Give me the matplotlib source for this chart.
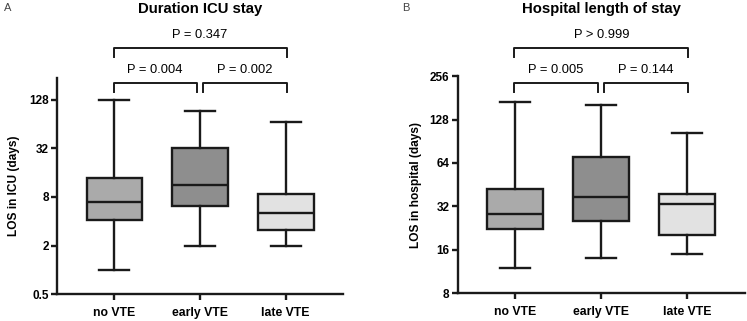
import matplotlib.pyplot as plt
import matplotlib.transforms as mtransforms
from matplotlib.ticker import FixedLocator, FixedFormatter, NullLocator

plt.rcParams['font.family'] = ['Liberation Sans', 'DejaVu Sans']

# dados (mediana, quartis, min/max)
grupos = ['no VTE', 'early VTE', 'late VTE']
cores = ['#aaaaaa', '#8e8e8e', '#e2e2e2']

icu_min = [1.0, 2.0, 2.0]
icu_q1 = [4.1, 6.2, 3.1]
icu_med = [7.0, 11.2, 5.0]
icu_q3 = [13.6, 32.0, 8.8]
icu_max = [128, 94, 67]
icu_p = ['P = 0.004', 'P = 0.002', 'P = 0.347']

hosp_min = [12.0, 14.0, 15.0]
hosp_q1 = [22.3, 25.5, 20.4]
hosp_med = [28.2, 37.0, 33.2]
hosp_q3 = [42.0, 70.0, 38.7]
hosp_max = [169, 161, 104]
hosp_p = ['P = 0.005', 'P = 0.144', 'P > 0.999']

COR_LINHA = '#1a1a1a'
LW = 1.7

fig = plt.figure(figsize=(7.47, 3.21), dpi=100)
axA = fig.add_axes([0.0763, 0.0832, 0.383, 0.675])
axB = fig.add_axes([0.6127, 0.0863, 0.3846, 0.6767])


def desenhar(ax, mins, q1s, meds, q3s, maxs, ylim, ticks, rotulos, ylabel, pvals, niveis, xlab):
    stats = []
    for i in range(len(grupos)):
        stats.append({'med': meds[i], 'q1': q1s[i], 'q3': q3s[i],
                      'whislo': mins[i], 'whishi': maxs[i], 'label': grupos[i]})
    bp = ax.bxp(stats, positions=[1, 2, 3], widths=0.65, showfliers=False,
                patch_artist=True,
                boxprops=dict(linewidth=LW, edgecolor=COR_LINHA),
                medianprops=dict(linewidth=LW, color=COR_LINHA),
                whiskerprops=dict(linewidth=LW, color=COR_LINHA),
                capprops=dict(linewidth=LW, color=COR_LINHA),
                capwidths=0.35)
    for caixa, cor in zip(bp['boxes'], cores):
        caixa.set_facecolor(cor)

    ax.set_yscale('log')
    ax.set_ylim(*ylim)
    ax.set_xlim(0.33, 3.67)
    ax.yaxis.set_major_locator(FixedLocator(ticks))
    ax.yaxis.set_major_formatter(FixedFormatter(rotulos))
    ax.yaxis.set_minor_locator(NullLocator())
    ax.set_xticks([1, 2, 3])
    ax.set_xticklabels(grupos, fontweight='bold', fontsize=8.8)
    for t in ax.get_yticklabels():
        t.set_fontweight('bold')
        t.set_fontsize(8.5)
    ax.tick_params(width=LW, length=4, color=COR_LINHA, pad=2)
    ax.tick_params(axis='x', pad=5)
    for lado in ['top', 'right']:
        ax.spines[lado].set_visible(False)
    for lado in ['left', 'bottom']:
        ax.spines[lado].set_linewidth(LW)
        ax.spines[lado].set_color(COR_LINHA)
    ax.set_ylabel(ylabel, fontweight='bold', fontsize=8.6)
    ax.yaxis.set_label_coords(xlab, 0.5)

    # colchetes com os valores de P
    trans = mtransforms.blended_transform_factory(ax.transData, ax.transAxes)
    baixo, baixo_ponta, cima, cima_ponta, txt_baixo, txt_cima = niveis
    pares = [(0.99, 1.96, baixo, baixo_ponta, txt_baixo),
             (2.03, 3.01, baixo, baixo_ponta, txt_baixo),
             (0.99, 3.01, cima, cima_ponta, txt_cima)]
    for (x0, x1, yh, yp, yt), p in zip(pares, pvals):
        ax.plot([x0, x0, x1, x1], [yp, yh, yh, yp], color=COR_LINHA, lw=1.4,
                transform=trans, clip_on=False)
        ax.text((x0 + x1) / 2, yt, p, ha='center', va='center', fontsize=9.3,
                transform=trans)


desenhar(axA, icu_min, icu_q1, icu_med, icu_q3, icu_max, (0.5, 240),
         [0.5, 2, 8, 32, 128], ['0.5', '2', '8', '32', '128'],
         'LOS in ICU (days)', icu_p, (0.977, 0.935, 1.136, 1.094, 1.035, 1.195), -0.129)
desenhar(axB, hosp_min, hosp_q1, hosp_med, hosp_q3, hosp_max, (8, 256),
         [8, 16, 32, 64, 128, 256], ['8', '16', '32', '64', '128', '256'],
         'LOS in hospital (days)', hosp_p, (0.966, 0.925, 1.127, 1.086, 1.026, 1.187), -0.124)

fig.text(0.268, 0.971, 'Duration ICU stay', ha='center', va='center',
         fontsize=10.7, fontweight='bold')
fig.text(0.805, 0.971, 'Hospital length of stay', ha='center', va='center',
         fontsize=10.7, fontweight='bold')
fig.text(0.006, 0.975, 'A', ha='left', va='center', fontsize=8, color='#444444')
fig.text(0.538, 0.975, 'B', ha='left', va='center', fontsize=8, color='#444444')

fig.savefig('out.png', dpi=100, facecolor='white')
